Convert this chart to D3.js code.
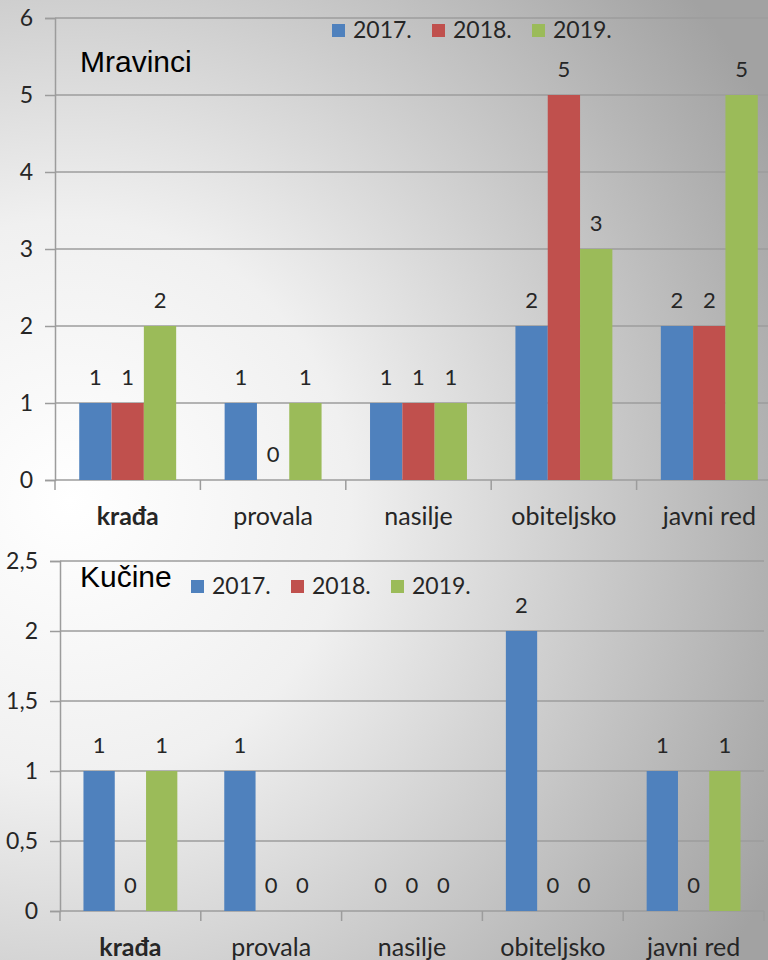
<!DOCTYPE html>
<html>
<head>
<meta charset="utf-8">
<script src="https://cdn.jsdelivr.net/npm/d3@7"></script>
<style>
  html, body { margin: 0; padding: 0; }
  svg { display: block; }
</style>
</head>
<body>
<svg></svg>
<script>
// data
const categories = ["krađa", "provala", "nasilje", "obiteljsko", "javni red"];
const years = ["2017.", "2018.", "2019."];
const colors = ["#4F81BD", "#C0504D", "#9BBB59"];

const mravinci2017 = [1, 1, 1, 2, 2];
const mravinci2018 = [1, 0, 1, 5, 2];
const mravinci2019 = [2, 1, 1, 3, 5];
const mravinciTicks = [0, 1, 2, 3, 4, 5, 6];

const kucine2017 = [1, 1, 0, 2, 1];
const kucine2018 = [0, 0, 0, 0, 0];
const kucine2019 = [1, 0, 0, 0, 1];
const kucineTicks = [0, 0.5, 1, 1.5, 2, 2.5];

const width = 768;
const height = 960;

const svg = d3.select("svg").attr("width", width).attr("height", height);

// grey background, bright on the left middle
const grad = svg.append("defs").append("radialGradient")
  .attr("id", "bg")
  .attr("gradientUnits", "userSpaceOnUse")
  .attr("cx", 70).attr("cy", 500).attr("r", 800);
grad.append("stop").attr("offset", "0").attr("stop-color", "#ffffff");
grad.append("stop").attr("offset", "0.35").attr("stop-color", "#f0f0f0");
grad.append("stop").attr("offset", "1").attr("stop-color", "#a2a2a2");
svg.append("rect").attr("width", width).attr("height", height).attr("fill", "url(#bg)");

const fmt = d => String(d).replace(".", ",");

function drawChart(opt) {
  const g = svg.append("g");
  const series = opt.series;

  const y = d3.scaleLinear().domain(opt.domain).range([opt.bottom, opt.top]);
  const x0 = d3.scaleBand().domain(categories).range([opt.left, opt.right]).padding(0);
  const x1 = d3.scaleBand().domain(years).range([0, x0.bandwidth()])
    .paddingInner(0).paddingOuter(0.75);

  // gridlines
  g.selectAll(".grid").data(opt.ticks).join("line")
    .attr("x1", opt.left).attr("x2", Math.min(opt.right, width))
    .attr("y1", d => y(d)).attr("y2", d => y(d))
    .attr("stroke", "#9c9c9c").attr("stroke-width", 1.5);

  // bars
  categories.forEach((c, i) => {
    const cell = g.append("g").attr("transform", `translate(${x0(c)},0)`);
    years.forEach((yr, j) => {
      const v = series[j][i];
      cell.append("rect")
        .attr("x", x1(yr))
        .attr("y", y(v))
        .attr("width", x1.bandwidth())
        .attr("height", y(0) - y(v))
        .attr("fill", colors[j]);
      cell.append("text")
        .attr("x", x1(yr) + x1.bandwidth() / 2)
        .attr("y", y(v) - 26)
        .attr("dy", "0.35em")
        .attr("text-anchor", "middle")
        .attr("font-family", "Lato, sans-serif")
        .attr("font-size", 22)
        .attr("fill", "#262626")
        .text(v);
    });
  });

  // y axis
  const yAxis = g.append("g")
    .attr("transform", `translate(${opt.left},0)`)
    .call(d3.axisLeft(y).tickValues(opt.ticks).tickSize(10).tickPadding(12).tickFormat(fmt));
  yAxis.select(".domain").attr("stroke", "#9c9c9c").attr("stroke-width", 1.5);
  yAxis.selectAll(".tick line").attr("stroke", "#9c9c9c").attr("stroke-width", 1.5);
  yAxis.selectAll(".tick text")
    .attr("font-family", "Lato, sans-serif").attr("font-size", 23).attr("fill", "#262626");

  // x axis: ticks at the category borders, labels centred
  const borders = categories.map(c => x0(c)).concat([opt.right]);
  g.selectAll(".xt").data(borders).join("line")
    .attr("x1", d => d).attr("x2", d => d)
    .attr("y1", opt.bottom).attr("y2", opt.bottom + 10)
    .attr("stroke", "#9c9c9c").attr("stroke-width", 1.5);
  g.selectAll(".xl").data(categories).join("text")
    .attr("x", d => x0(d) + x0.bandwidth() / 2)
    .attr("y", opt.bottom + 36)
    .attr("dy", "0.35em")
    .attr("text-anchor", "middle")
    .attr("font-family", "Lato, sans-serif")
    .attr("font-size", 25)
    .attr("font-weight", d => d === "krađa" ? "bold" : "normal")
    .attr("fill", "#262626")
    .text(d => d);

  // title
  g.append("text")
    .attr("x", 80).attr("y", opt.titleY)
    .attr("font-family", "Liberation Sans, Arial, sans-serif")
    .attr("font-size", 30)
    .attr("fill", "#000")
    .text(opt.title);

  // legend
  years.forEach((yr, j) => {
    const lx = opt.legendX + j * 100;
    g.append("rect")
      .attr("x", lx).attr("y", opt.legendY - 6)
      .attr("width", 13).attr("height", 13)
      .attr("fill", colors[j]);
    g.append("text")
      .attr("x", lx + 21).attr("y", opt.legendY)
      .attr("dy", "0.35em")
      .attr("font-family", "Lato, sans-serif")
      .attr("font-size", 23)
      .attr("fill", "#262626")
      .text(yr);
  });
}

drawChart({
  title: "Mravinci",
  series: [mravinci2017, mravinci2018, mravinci2019],
  domain: [0, 6], ticks: mravinciTicks,
  left: 55, right: 782, top: 18, bottom: 480,
  titleY: 72, legendX: 332, legendY: 30
});

drawChart({
  title: "Kučine",
  series: [kucine2017, kucine2018, kucine2019],
  domain: [0, 2.5], ticks: kucineTicks,
  left: 60, right: 764, top: 561, bottom: 911,
  titleY: 587, legendX: 191, legendY: 586
});
</script>
</body>
</html>
